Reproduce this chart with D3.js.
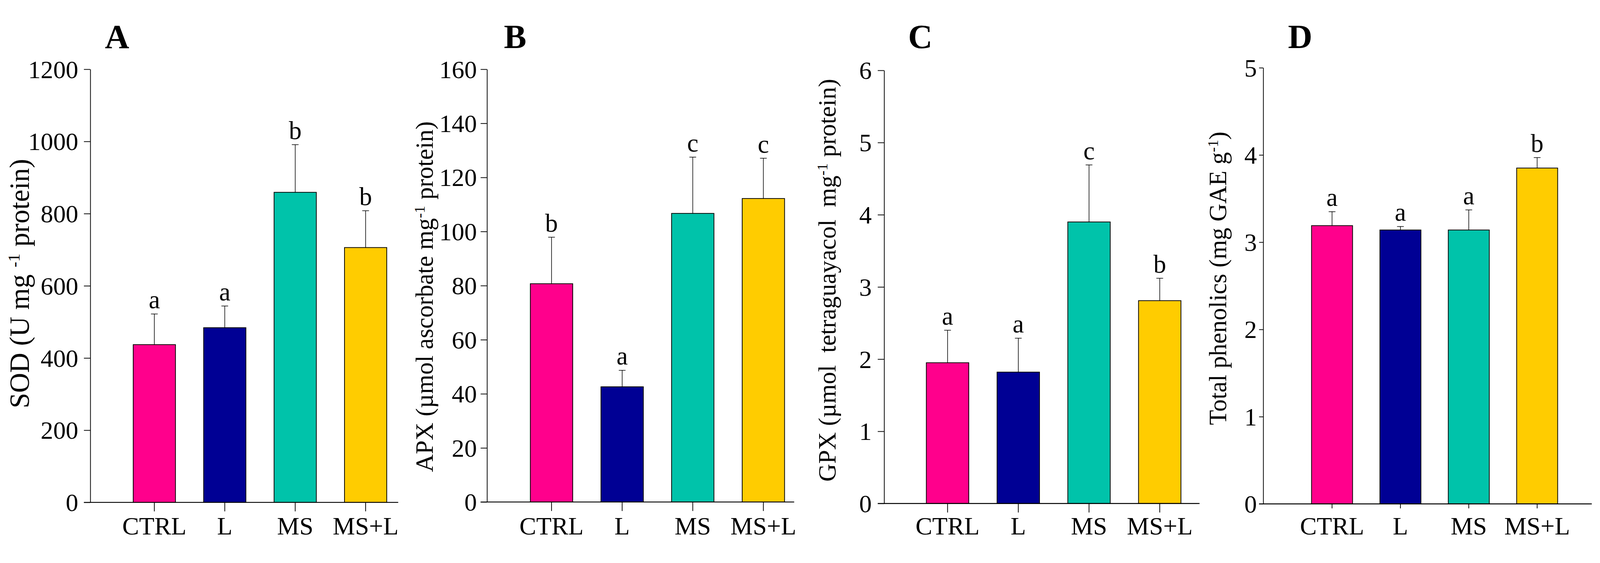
<!DOCTYPE html>
<html>
  <head>
    <meta charset="utf-8">
    <title>Antioxidant enzymes and total phenolics</title>
    <script src="https://cdn.jsdelivr.net/npm/d3@7/dist/d3.min.js"></script>
    <style>
      html, body { margin: 0; padding: 0; background: #fff; overflow: hidden; }
      svg { display: block; width: 100vw; height: 100vh; }
      text { font-family: "Liberation Serif", "Times New Roman", serif; fill: #000; }
    </style>
  </head>
  <body>
  <script>

    // Treatments and bar colours
    var categories = ["CTRL", "L", "MS", "MS+L"];
    var barColors = ["#FF008C", "#000094", "#00C3AA", "#FFCC00"];

    // A - SOD (U mg-1 protein)
    var sodMean = [437, 484, 859, 706];
    var sodErr = [85, 60, 132, 102];
    var sodLetters = ["a", "a", "b", "b"];
    var sodTicks = [0, 200, 400, 600, 800, 1000, 1200];

    // B - APX
    var apxMean = [80.7, 42.6, 106.7, 112.2];
    var apxErr = [17.2, 6.1, 20.8, 14.9];
    var apxLetters = ["b", "a", "c", "c"];
    var apxTicks = [0, 20, 40, 60, 80, 100, 120, 140, 160];

    // C - GPX
    var gpxMean = [1.95, 1.82, 3.90, 2.81];
    var gpxErr = [0.45, 0.47, 0.79, 0.31];
    var gpxLetters = ["a", "a", "c", "b"];
    var gpxTicks = [0, 1, 2, 3, 4, 5, 6];

    // D - Total phenolics
    var phenMean = [3.19, 3.14, 3.14, 3.85];
    var phenErr = [0.16, 0.04, 0.23, 0.12];
    var phenLetters = ["a", "a", "a", "b"];
    var phenTicks = [0, 1, 2, 3, 4, 5];

    var W = 4271, H = 1441;

    // scale the drawing to whatever the window is
    var svg = d3.select("body").append("svg")
        .attr("viewBox", "0 0 " + W + " " + H)
        .attr("preserveAspectRatio", "xMidYMid meet");

    svg.append("rect").attr("width", W).attr("height", H).attr("fill", "#fff");

    // panel layout (pixel positions)
    var panels = [
      { tag: "A", mean: sodMean, err: sodErr, letters: sodLetters, ticks: sodTicks,
        axisX: 241, xEnd: 1063, y0: 1310, yTop: 154, band0: 318, step: 188,
        yTick: 17, xTick: 24, pad: 15, tagX: 280,
        titleX: 77, titleY: 726, titleSize: 74,
        title: [["SOD (U mg ", 0], ["-1", 1], [" protein)", 0]] },
      { tag: "B", mean: apxMean, err: apxErr, letters: apxLetters, ticks: apxTicks,
        axisX: 1300, xEnd: 2120, y0: 1309, yTop: 154, band0: 1378, step: 188.5,
        yTick: 17, xTick: 24, pad: 10, tagX: 1345,
        titleX: 1155, titleY: 761, titleSize: 66,
        title: [["APX (\u00b5mol ascorbate mg", 0], ["-1", 1], [" protein)", 0]] },
      { tag: "C", mean: gpxMean, err: gpxErr, letters: gpxLetters, ticks: gpxTicks,
        axisX: 2360, xEnd: 3202, y0: 1313, yTop: 157, band0: 2435, step: 188.8,
        yTick: 17, xTick: 24, pad: 16, tagX: 2424,
        titleX: 2230, titleY: 717, titleSize: 66,
        title: [["GPX (\u00b5mol\u00a0 tetraguayacol\u00a0 mg", 0], ["-1", 1], [" protein)", 0]] },
      { tag: "D", mean: phenMean, err: phenErr, letters: phenLetters, ticks: phenTicks,
        axisX: 3372, xEnd: 4249, y0: 1314, yTop: 150, band0: 3464.5, step: 182.5,
        yTick: 11, xTick: 12, pad: 6, tagX: 3438,
        titleX: 3273, titleY: 712, titleSize: 66,
        title: [["Total phenolics (mg GAE g", 0], ["-1", 1], [")", 0]] }
    ];

    panels.forEach(function (p) {
      var g = svg.append("g");

      var y = d3.scaleLinear()
          .domain([0, p.ticks[p.ticks.length - 1]])
          .range([p.y0, p.yTop]);

      var x = d3.scaleBand()
          .domain(categories)
          .range([p.band0, p.band0 + 4 * p.step])
          .paddingInner(0.4)
          .paddingOuter(0.2);

      var data = categories.map(function (c, i) {
        return { cat: c, mean: p.mean[i], err: p.err[i], letter: p.letters[i], color: barColors[i] };
      });

      // bars
      g.selectAll("rect.bar")
          .data(data)
          .enter()
          .append("rect")
          .attr("class", "bar")
          .attr("x", function (d) { return x(d.cat); })
          .attr("y", function (d) { return y(d.mean); })
          .attr("width", x.bandwidth())
          .attr("height", function (d) { return y(0) - y(d.mean); })
          .attr("fill", function (d) { return d.color; })
          .attr("stroke", "#000")
          .attr("stroke-width", 2);

      // error bars (upper only)
      var cx = function (d) { return x(d.cat) + x.bandwidth() / 2; };
      g.selectAll("line.err")
          .data(data)
          .enter()
          .append("line")
          .attr("x1", cx).attr("x2", cx)
          .attr("y1", function (d) { return y(d.mean); })
          .attr("y2", function (d) { return y(d.mean + d.err); })
          .attr("stroke", "#000").attr("stroke-width", 1.6);
      g.selectAll("line.cap")
          .data(data)
          .enter()
          .append("line")
          .attr("x1", function (d) { return cx(d) - 9; })
          .attr("x2", function (d) { return cx(d) + 9; })
          .attr("y1", function (d) { return y(d.mean + d.err); })
          .attr("y2", function (d) { return y(d.mean + d.err); })
          .attr("stroke", "#000").attr("stroke-width", 1.6);

      // significance letters
      g.selectAll("text.sig")
          .data(data)
          .enter()
          .append("text")
          .attr("x", cx)
          .attr("y", function (d) { return y(d.mean + d.err) - 15; })
          .attr("text-anchor", "middle")
          .attr("font-size", 68)
          .text(function (d) { return d.letter; });

      // y axis
      var yAxis = g.append("g")
          .attr("transform", "translate(" + p.axisX + ",0)")
          .call(d3.axisLeft(y).tickValues(p.ticks).tickSize(p.yTick).tickSizeOuter(0)
                .tickPadding(p.pad).tickFormat(d3.format("d")));
      yAxis.select(".domain").attr("stroke-width", 2);
      yAxis.selectAll(".tick line").attr("stroke-width", 2);
      yAxis.selectAll(".tick text")
          .attr("font-family", "Liberation Serif")
          .attr("font-size", 67)
          .attr("dy", "0.34em");

      // x axis
      var xAxis = g.append("g")
          .attr("transform", "translate(0," + p.y0 + ")")
          .call(d3.axisBottom(x).tickSize(p.xTick).tickPadding(0));
      xAxis.select(".domain").remove();
      xAxis.selectAll(".tick line").attr("stroke-width", 2);
      xAxis.selectAll(".tick text")
          .attr("font-family", "Liberation Serif")
          .attr("font-size", 67)
          .attr("dy", null)
          .attr("y", 1396 - p.y0);
      g.append("line")
          .attr("x1", p.axisX - p.yTick).attr("x2", p.xEnd)
          .attr("y1", p.y0).attr("y2", p.y0)
          .attr("stroke", "#000").attr("stroke-width", 2.5);

      // panel tag
      g.append("text")
          .attr("x", p.tagX)
          .attr("y", 97)
          .attr("font-size", 90)
          .attr("font-weight", "bold")
          .text(p.tag);

      // y title
      var t = g.append("text")
          .attr("transform", "translate(" + p.titleX + "," + p.titleY + ") rotate(-90)")
          .attr("text-anchor", "middle")
          .attr("font-size", p.titleSize);
      p.title.forEach(function (part) {
        var s = t.append("tspan").text(part[0]);
        if (part[1]) {
          s.attr("font-size", p.titleSize * 0.6).attr("baseline-shift", "55%");
        }
      });
    });

  </script>
  </body>
</html>
